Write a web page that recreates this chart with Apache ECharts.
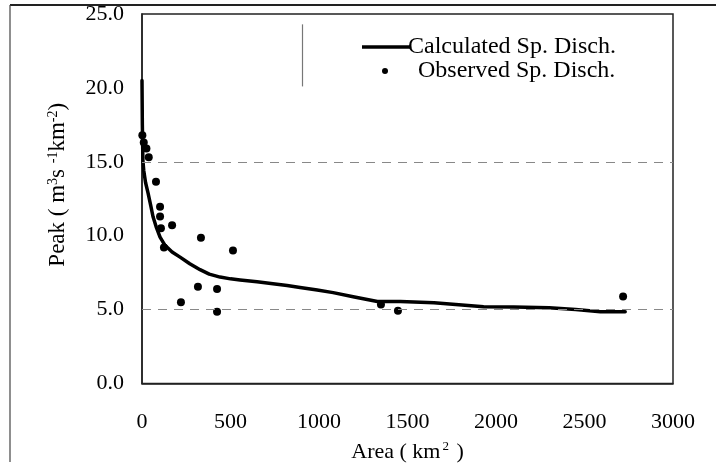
<!DOCTYPE html>
<html>
<head>
<meta charset="utf-8">
<script src="https://cdn.jsdelivr.net/npm/echarts@6/dist/echarts.min.js"></script>
<style>
  html, body { margin: 0; padding: 0; background: #fff; }
  #chart { width: 716px; height: 468px; }
</style>
</head>
<body>
<div id="chart"></div>
<script>
// Calculated specific discharge curve
const calcArea = [0, 2, 5, 10, 20, 34, 50, 62, 80, 102, 130, 170, 215, 270, 328, 380, 441, 500, 554, 650, 740, 820, 893, 990, 1080, 1200, 1330, 1460, 1650, 1930, 2100, 2300, 2450, 2590, 2730];
const calcPeak = [20.5, 17.5, 15.1, 14.4, 13.6, 12.9, 12.0, 11.3, 10.6, 9.9, 9.35, 8.9, 8.55, 8.1, 7.7, 7.4, 7.2, 7.08, 7.0, 6.88, 6.75, 6.63, 6.5, 6.33, 6.15, 5.85, 5.55, 5.55, 5.47, 5.2, 5.17, 5.13, 5.0, 4.86, 4.86];

// Observed specific discharge points
const obsArea = [2, 10, 25, 38, 79, 102, 102, 107, 124, 170, 220, 316, 333, 424, 424, 514, 1350, 1446, 2718];
const obsPeak = [16.8, 16.3, 15.9, 15.3, 13.65, 11.96, 11.3, 10.5, 9.2, 10.7, 5.5, 6.55, 9.86, 6.4, 4.86, 9.0, 5.34, 4.93, 5.88];

// Axis ticks
const yTicks = [0, 5, 10, 15, 20, 25];
const xTicks = [0, 500, 1000, 1500, 2000, 2500, 3000];
const dashedLevels = [5, 15];

const seriesNames = ['Calculated Sp. Disch.', 'Observed Sp. Disch.'];

const FONT = 'Liberation Serif';

const chart = echarts.init(document.getElementById('chart'), null, { renderer: 'canvas' });

const calcData = calcArea.map((a, i) => [a, calcPeak[i]]);
const obsData = obsArea.map((a, i) => [a, obsPeak[i]]);

const option = {
  animation: false,
  backgroundColor: '#fff',
  grid: {
    left: 142, right: 43, top: 14, bottom: 84,
    show: true, borderColor: '#222', borderWidth: 1.5, backgroundColor: 'transparent'
  },
  graphic: [
    { type: 'line', shape: { x1: 10, y1: 5, x2: 716, y2: 5 }, style: { stroke: '#222', lineWidth: 2 } },
    { type: 'line', shape: { x1: 10, y1: 5, x2: 10, y2: 462 }, style: { stroke: '#444', lineWidth: 1.2 } }
  ],
  legend: [
    {
      data: [{ name: seriesNames[0], icon: 'rect' }],
      left: 357, top: 30,
      itemWidth: 48, itemHeight: 3.5, itemGap: 0,
      itemStyle: { color: '#000' },
      textStyle: { fontFamily: FONT, fontSize: 24, color: '#000', padding: [0, 0, 0, -7] }
    },
    {
      data: [{ name: seriesNames[1], icon: 'circle' }],
      left: 377, top: 54,
      itemWidth: 6, itemHeight: 6, itemGap: 0,
      itemStyle: { color: '#000', opacity: 1 },
      textStyle: { fontFamily: FONT, fontSize: 24, color: '#000', padding: [0, 0, 0, 25] }
    }
  ],
  xAxis: {
    type: 'value',
    min: xTicks[0], max: xTicks[xTicks.length - 1], interval: 500,
    axisLine: { show: true, lineStyle: { color: '#222', width: 1.5 } },
    axisTick: { show: false },
    splitLine: { show: false },
    axisLabel: { fontFamily: FONT, fontSize: 22, color: '#000', margin: 28, formatter: v => String(v) },
    name: '{n|Area ( km}{sup|2}{n| )}',
    nameLocation: 'middle',
    nameGap: 57,
    nameTextStyle: {
      fontFamily: FONT, fontSize: 22, color: '#000',
      rich: {
        n: { fontFamily: FONT, fontSize: 22, color: '#000' },
        sup: { fontFamily: FONT, fontSize: 13, color: '#000', verticalAlign: 'top', padding: [0, 2, 10, 2] }
      }
    }
  },
  yAxis: {
    type: 'value',
    min: yTicks[0], max: yTicks[yTicks.length - 1], interval: 5,
    axisLine: { show: true, lineStyle: { color: '#222', width: 1.5 } },
    axisTick: { show: false },
    splitLine: { show: false },
    axisLabel: {
      fontFamily: FONT, fontSize: 22, color: '#000', margin: 18,
      formatter: v => v.toFixed(1)
    },
    name: '{n|Peak ( m}{sup|3}{n|s }{sup|-1}{n|km}{sup|-2}{n|)}',
    nameLocation: 'middle',
    nameGap: 72,
    nameRotate: 90,
    nameTextStyle: {
      fontFamily: FONT, fontSize: 22, color: '#000',
      padding: [0, 0, 0, 28],
      rich: {
        n: { fontFamily: FONT, fontSize: 23, color: '#000' },
        sup: { fontFamily: FONT, fontSize: 14, color: '#000', verticalAlign: 'top', padding: [0, 0, 10, 0] }
      }
    }
  },
  series: [
    {
      name: seriesNames[0],
      type: 'line',
      data: calcData,
      symbol: 'none',
      smooth: false,
      lineStyle: { color: '#000', width: 3.5, join: 'round', cap: 'round' },
      itemStyle: { color: '#000' },
      z: 3,
      markLine: {
        silent: true,
        symbol: 'none',
        label: { show: false },
        lineStyle: { color: '#888', type: [9, 7], width: 1.2 },
        data: dashedLevels.map(v => ({ yAxis: v }))
      }
    },
    {
      name: seriesNames[1],
      type: 'scatter',
      data: obsData,
      symbol: 'circle',
      symbolSize: 8,
      itemStyle: { color: '#000', opacity: 1 },
      z: 4,
      markLine: {
        silent: true,
        symbol: 'none',
        label: { show: false },
        lineStyle: { color: '#777', type: 'solid', width: 1.2 },
        data: [[{ coord: [904, 24.3] }, { coord: [904, 20.1] }]]
      }
    }
  ]
};

chart.setOption(option);
</script>
</body>
</html>
